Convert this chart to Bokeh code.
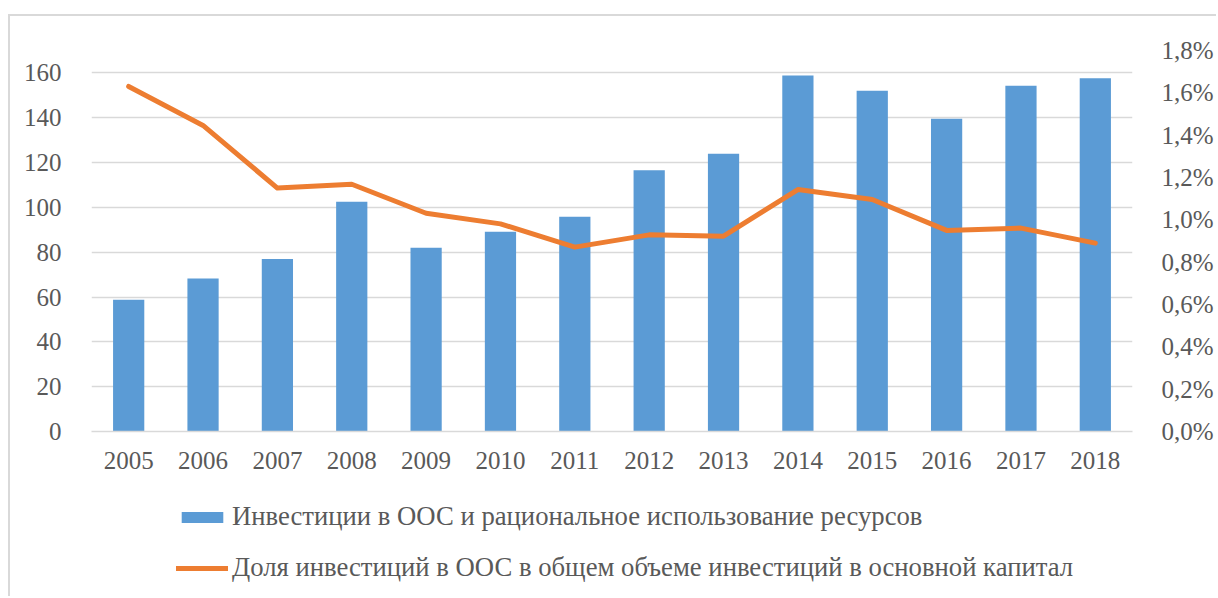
from bokeh.plotting import figure
from bokeh.layouts import column
from bokeh.models import (FactorRange, Range1d, LinearAxis, FixedTicker, CustomJSTickFormatter,
                          Legend, LegendItem, ColumnDataSource)
from bokeh.embed import file_html
from bokeh.resources import INLINE

years = ["2005", "2006", "2007", "2008", "2009", "2010", "2011",
         "2012", "2013", "2014", "2015", "2016", "2017", "2018"]
investments = [58.8, 68.3, 77.0, 102.5, 82.0, 89.1, 95.8,
               116.6, 123.9, 158.8, 152.0, 139.6, 154.3, 157.6]
share_pct = [1.63, 1.446, 1.15, 1.168, 1.031, 0.981, 0.871,
             0.929, 0.923, 1.143, 1.096, 0.950, 0.961, 0.890]
left_ticks = [0, 20, 40, 60, 80, 100, 120, 140, 160]
right_ticks = [0.0, 0.2, 0.4, 0.6, 0.8, 1.0, 1.2, 1.4, 1.6, 1.8]
bar_label = "Инвестиции в ООС и рациональное использование ресурсов"
line_label = "Доля инвестиций в ООС в общем объеме инвестиций в основной капитал"

FONT = "Liberation Serif"
TXT = "#595959"
BLUE = "#5B9BD5"
ORANGE = "#ED7D31"
GRID = "#D9D9D9"
FS = "25px"
LFS = "26.7px"

src = ColumnDataSource(dict(year=years, inv=investments, share=share_pct))

p = figure(width=1208, height=484, output_backend="svg", toolbar_location=None,
           x_range=FactorRange(*years, range_padding=0), y_range=Range1d(0, 170),
           min_border_left=81, min_border_right=86, min_border_top=34, min_border_bottom=69)
p.styles = {"border-top": "2px solid #D9D9D9", "border-left": "2px solid #D9D9D9",
            "margin-left": "8px", "margin-top": "14px"}
p.extra_y_ranges = {"pct": Range1d(0, 1.8)}
p.outline_line_color = None
p.background_fill_color = "white"
p.border_fill_color = "white"
p.xgrid.grid_line_color = None
p.ygrid.grid_line_color = GRID
p.ygrid.grid_line_width = 1.5

p.vbar(x="year", top="inv", width=0.42, source=src, fill_color=BLUE, line_color=None)
p.line(x="year", y="share", source=src, y_range_name="pct", line_color=ORANGE,
       line_width=5, line_cap="round", line_join="round")

for ax in (p.xaxis[0], p.yaxis[0]):
    ax.axis_line_color = None
    ax.major_tick_line_color = None
    ax.minor_tick_line_color = None
    ax.major_label_text_font = FONT
    ax.major_label_text_font_size = FS
    ax.major_label_text_color = TXT
p.xaxis[0].axis_line_color = GRID
p.xaxis[0].axis_line_width = 1.5
p.xaxis[0].major_label_standoff = 14
p.yaxis[0].ticker = FixedTicker(ticks=left_ticks)
p.yaxis[0].major_label_standoff = 24

rax = LinearAxis(y_range_name="pct", ticker=FixedTicker(ticks=right_ticks),
                 formatter=CustomJSTickFormatter(code="return tick.toFixed(1).replace('.', ',') + '%';"))
rax.axis_line_color = None
rax.major_tick_line_color = None
rax.minor_tick_line_color = None
rax.major_label_text_font = FONT
rax.major_label_text_font_size = FS
rax.major_label_text_color = TXT
rax.major_label_standoff = 23
p.add_layout(rax, "right")

# legend panel below the chart (series re-drawn out of view, only their legend swatches show)
lg = figure(width=1208, height=98, output_backend="svg", toolbar_location=None,
            x_range=FactorRange(*years, range_padding=0), y_range=Range1d(1000, 1001),
            x_axis_type=None, y_axis_type=None,
            min_border_left=81, min_border_right=86, min_border_top=0, min_border_bottom=0)
lg.styles = {"border-left": "2px solid #D9D9D9", "margin-left": "8px"}
lg.outline_line_color = None
lg.xgrid.grid_line_color = None
lg.ygrid.grid_line_color = None
lb = lg.vbar(x="year", top="inv", width=0.42, source=src, fill_color=BLUE, line_color=None)
ll = lg.line(x="year", y="share", source=src, line_color=ORANGE, line_width=5, line_cap="round")
legend = Legend(items=[LegendItem(label=bar_label, renderers=[lb]),
                       LegendItem(label=line_label, renderers=[ll])],
                location=(85, 13), orientation="vertical",
                glyph_width=52, glyph_height=14, label_standoff=4, spacing=20,
                padding=0, margin=0, border_line_color=None, background_fill_alpha=0,
                label_text_font=FONT, label_text_font_size=LFS, label_text_color=TXT)
lg.add_layout(legend, "center")

layout = column(p, lg, spacing=0)
open("out.html", "w").write(file_html(layout, INLINE))
